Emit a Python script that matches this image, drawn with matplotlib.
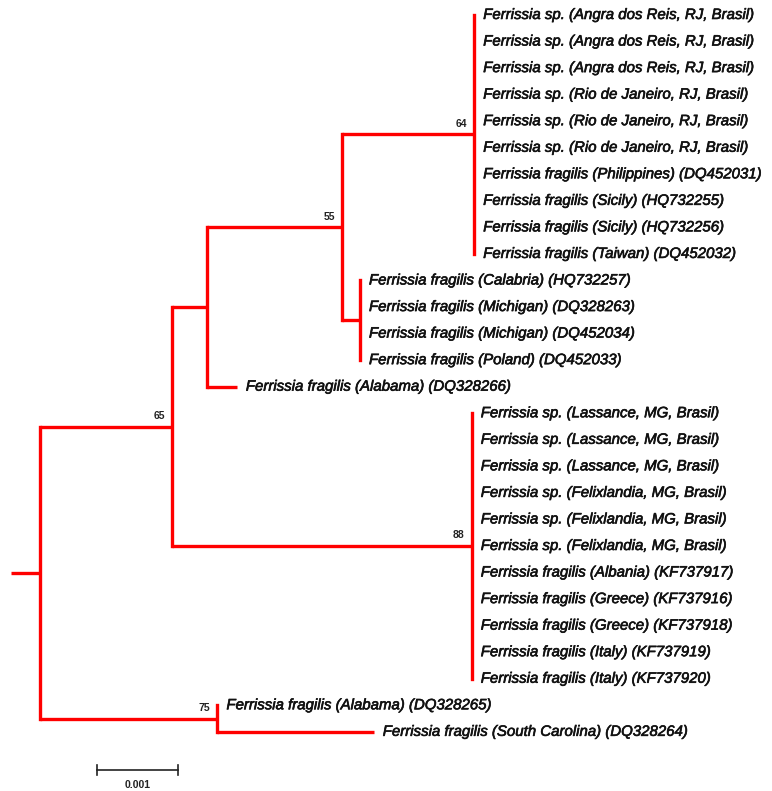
import matplotlib
matplotlib.use('Agg')
import matplotlib.pyplot as plt
import matplotlib.patheffects as pe

# leaves, top to bottom
leaf_labels = [
    'Ferrissia sp. (Angra dos Reis, RJ, Brasil)',
    'Ferrissia sp. (Angra dos Reis, RJ, Brasil)',
    'Ferrissia sp. (Angra dos Reis, RJ, Brasil)',
    'Ferrissia sp. (Rio de Janeiro, RJ, Brasil)',
    'Ferrissia sp. (Rio de Janeiro, RJ, Brasil)',
    'Ferrissia sp. (Rio de Janeiro, RJ, Brasil)',
    'Ferrissia fragilis (Philippines) (DQ452031)',
    'Ferrissia fragilis (Sicily) (HQ732255)',
    'Ferrissia fragilis (Sicily) (HQ732256)',
    'Ferrissia fragilis (Taiwan) (DQ452032)',
    'Ferrissia fragilis (Calabria) (HQ732257)',
    'Ferrissia fragilis (Michigan) (DQ328263)',
    'Ferrissia fragilis (Michigan) (DQ452034)',
    'Ferrissia fragilis (Poland) (DQ452033)',
    'Ferrissia fragilis (Alabama) (DQ328266)',
    'Ferrissia sp. (Lassance, MG, Brasil)',
    'Ferrissia sp. (Lassance, MG, Brasil)',
    'Ferrissia sp. (Lassance, MG, Brasil)',
    'Ferrissia sp. (Felixlandia, MG, Brasil)',
    'Ferrissia sp. (Felixlandia, MG, Brasil)',
    'Ferrissia sp. (Felixlandia, MG, Brasil)',
    'Ferrissia fragilis (Albania) (KF737917)',
    'Ferrissia fragilis (Greece) (KF737916)',
    'Ferrissia fragilis (Greece) (KF737918)',
    'Ferrissia fragilis (Italy) (KF737919)',
    'Ferrissia fragilis (Italy) (KF737920)',
    'Ferrissia fragilis (Alabama) (DQ328265)',
    'Ferrissia fragilis (South Carolina) (DQ328264)',
]
leaf_parent = ['n64', 'n64', 'n64', 'n64', 'n64', 'n64', 'n64', 'n64', 'n64', 'n64',
               'nB', 'nB', 'nB', 'nB',
               'nA',
               'n88', 'n88', 'n88', 'n88', 'n88', 'n88', 'n88', 'n88', 'n88', 'n88', 'n88',
               'n75', 'n75']
leaf_branch = [0, 0, 0, 0, 0, 0, 0, 0, 0, 0,
               0, 0, 0, 0,
               0.00037,
               0, 0, 0, 0, 0, 0, 0, 0, 0, 0, 0,
               0, 0.00193]

# internal nodes
node_names = ['root', 'n65', 'nA', 'n55', 'n64', 'nB', 'n88', 'n75']
node_parent = [None, 'root', 'n65', 'nA', 'n55', 'n55', 'n65', 'root']
node_branch = [0.00036, 0.00163, 0.00043, 0.00167, 0.00163, 0.00022, 0.00370, 0.00219]
node_support = ['', '65', '', '55', '64', '', '88', '75']

scale_len = 0.001
scale_label = '0.001'

# x positions (cumulative branch length)
node_x = {}
for name, par, bl in zip(node_names, node_parent, node_branch):
    node_x[name] = 0.0 if par is None else node_x[par] + bl
leaf_x = [node_x[p] + b for p, b in zip(leaf_parent, leaf_branch)]
leaf_y = list(range(len(leaf_labels)))

# y positions: midpoint of first and last child
children = {n: [] for n in node_names}
for i, p in enumerate(leaf_parent):
    children[p].append(('leaf', i))
for n, p in zip(node_names, node_parent):
    if p is not None:
        children[p].append(('node', n))

node_y = {}
def get_y(kind, key):
    if kind == 'leaf':
        return leaf_y[key]
    if key not in node_y:
        ys = [get_y(k, c) for k, c in children[key]]
        node_y[key] = (min(ys) + max(ys)) / 2
    return node_y[key]
get_y('node', 'root')

fig = plt.figure(figsize=(7.72, 7.91), dpi=100)
ax = fig.add_axes([0, 0, 1, 1])
unit = 0.001 / 81  # data per pixel (x)
row = 26.55        # pixels per row
ax.set_xlim(-40 * unit, 732 * unit)
ax.set_ylim((791 - 15) / row, -15 / row)
ax.axis('off')

red = '#ff0000'
lw = 2.4
thick = [pe.withStroke(linewidth=0.45, foreground='#111111')]
# root stub
ax.plot([-node_branch[0], 0], [node_y['root']] * 2, color=red, lw=lw, solid_capstyle='butt')
for n, p in zip(node_names, node_parent):
    kids = [get_y(k, c) for k, c in children[n]]
    ax.plot([node_x[n]] * 2, [min(kids), max(kids)], color=red, lw=lw, solid_capstyle='projecting')
    if p is not None:
        ax.plot([node_x[p], node_x[n]], [node_y[n]] * 2, color=red, lw=lw, solid_capstyle='butt')
for i, (p, x) in enumerate(zip(leaf_parent, leaf_x)):
    if x > node_x[p]:
        ax.plot([node_x[p], x], [leaf_y[i]] * 2, color=red, lw=lw, solid_capstyle='butt')
    ax.annotate(leaf_labels[i], (x, leaf_y[i]), xytext=(6.5, 0), textcoords='offset points',
                ha='left', va='center', fontsize=10.8, style='italic',
                family='Liberation Sans', color='#111111', path_effects=thick)

for n, s in zip(node_names, node_support):
    if s:
        ax.annotate(s, (node_x[n], node_y[n]), xytext=(-5, 4), textcoords='offset points',
                    ha='right', va='bottom', fontsize=7.5, family='Liberation Sans',
                    fontweight='bold', color='#222222')

# scale bar
sx0 = 57 * unit
sy = (770 - 15) / row
ax.plot([sx0, sx0 + scale_len], [sy, sy], color='#222222', lw=1.2)
for xx in (sx0, sx0 + scale_len):
    ax.plot([xx, xx], [sy - 0.17, sy + 0.17], color='#222222', lw=1.2)
ax.text(sx0 + scale_len / 2, (785 - 15) / row, scale_label, ha='center', va='center',
        fontsize=7.5, family='Liberation Sans', fontweight='bold', color='#222222')

fig.savefig('out.png', dpi=100)
